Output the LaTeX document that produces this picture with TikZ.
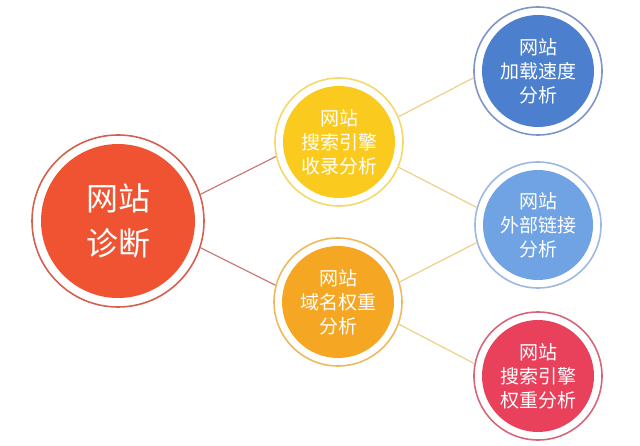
\documentclass[tikz,border=0pt]{standalone}
\usepackage{fontspec}
\newfontfamily\cjk{Noto Sans CJK SC}
\definecolor{cMainF}{HTML}{F05332}
\definecolor{cMainR}{HTML}{D4604E}
\definecolor{cYelF}{HTML}{FACB1E}
\definecolor{cYelR}{HTML}{F4D86A}
\definecolor{cOraF}{HTML}{F5A623}
\definecolor{cOraR}{HTML}{EDBA5C}
\definecolor{cBluF}{HTML}{4C80CE}
\definecolor{cBluR}{HTML}{7E95C8}
\definecolor{cLblF}{HTML}{6FA3E3}
\definecolor{cLblR}{HTML}{9DB8E2}
\definecolor{cRedF}{HTML}{E9405B}
\definecolor{cRedR}{HTML}{D66679}
\definecolor{cLineL}{HTML}{CF7C7E}
\definecolor{cLineR}{HTML}{EDD08C}
\tikzset{
  bubble/.style n args={4}{circle, draw=#1, line width=1.6pt, fill=white,
    minimum size=#3, inner sep=0pt, text=white, align=center,
    path picture={\fill[#2] (path picture bounding box.center) circle (#4);}},
  small/.style={font=\cjk\fontsize{19}{24}\selectfont},
  big/.style={font=\cjk\fontsize{32}{45}\selectfont},
  linkL/.style={draw=cLineL, line width=1.2pt},
  linkR/.style={draw=cLineR, line width=1.2pt}
}
\begin{document}
\begin{tikzpicture}[x=1pt,y=1pt]
\useasboundingbox (0,0) rectangle (640,445);
\node[bubble={cMainR}{cMainF}{172pt}{77pt}, big] (main) at (118,224) {网站\\诊断};
\node[bubble={cYelR}{cYelF}{128pt}{56pt}, small] (yel) at (339,303) {网站\\搜索引擎\\收录分析};
\node[bubble={cOraR}{cOraF}{128pt}{56pt}, small] (ora) at (338,143) {网站\\域名权重\\分析};
\node[bubble={cBluR}{cBluF}{128pt}{56pt}, small] (blu) at (538,374) {网站\\加载速度\\分析};
\node[bubble={cLblR}{cLblF}{126pt}{55pt}, small] (lbl) at (538,220) {网站\\外部链接\\分析};
\node[bubble={cRedR}{cRedF}{128pt}{56pt}, small] (red) at (538,69) {网站\\搜索引擎\\权重分析};
\draw[linkL] (main.18) -- (yel.193);
\draw[linkL] (main.-18) -- (ora.165);
\draw[linkR] (yel.23) -- (blu.186);
\draw[linkR] (yel.-23) -- (lbl.164);
\draw[linkR] (ora.18) -- (lbl.196);
\draw[linkR] (ora.-20) -- (red.169);
\end{tikzpicture}
\end{document}
